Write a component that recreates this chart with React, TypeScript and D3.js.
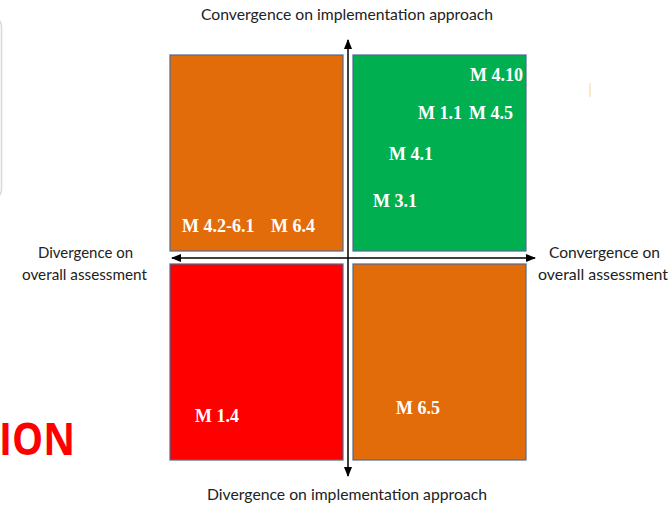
import React from 'react';
import * as d3 from 'd3';

// Quadrant fills: [horizontal sign, vertical sign, colour]
const quadrantSides = [
  { qx: -1, qy: 1, color: '#E36C0A' },
  { qx: 1, qy: 1, color: '#00B050' },
  { qx: -1, qy: -1, color: '#FF0000' },
  { qx: 1, qy: -1, color: '#E36C0A' },
];

// Measures placed on (overall assessment, implementation approach) convergence
const measureNames = ['M 4.10', 'M 1.1', 'M 4.5', 'M 4.1', 'M 3.1', 'M 4.2-6.1', 'M 6.4', 'M 1.4', 'M 6.5'];
const overallScore = [0.685, 0.393, 0.68, 0.23, 0.14, -0.933, -0.433, -0.86, 0.27];
const implementationScore = [0.872, 0.684, 0.684, 0.481, 0.249, 0.126, 0.126, -0.812, -0.773];

const topLabel = 'Convergence on implementation approach';
const bottomLabel = 'Divergence  on implementation approach';
const leftLabel = ['Divergence on', 'overall assessment'];
const rightLabel = ['Convergence on', 'overall assessment'];

const W = 671;
const H = 506;

export default function App() {
  const x = d3.scaleLinear().domain([-1, 1]).range([170, 526]);
  const y = d3.scaleLinear().domain([-1, 1]).range([460, 55]);
  const gapX = 5;
  const gapY = 6.5;
  const cx = x(0);
  const cy = y(0);

  const axisFont = 'Lato, "Open Sans", sans-serif';
  const markFont = '"Liberation Serif", "DejaVu Serif", serif';

  return (
    <svg
      width={W}
      height={H}
      viewBox={`0 0 ${W} ${H}`}
      style={{ position: 'absolute', left: 0, top: 0, background: '#fff' }}
    >
      <defs>
        <marker id="arr" viewBox="0 0 10 10" refX="9" refY="5" markerWidth="7" markerHeight="7" orient="auto-start-reverse">
          <path d="M0,1 L10,5 L0,9 z" fill="#000" />
        </marker>
      </defs>

      {/* cropped slide remnants */}
      <rect x={-20} y={18} width={21.5} height={180} rx={8} fill="#fff" stroke="#d8d8d8" strokeWidth={1.5} />
      <line x1={590} x2={590} y1={83} y2={97} stroke="#f3b45c" strokeWidth={1} opacity={0.6} />
      <text
        x={75}
        y={455}
        textAnchor="end"
        fill="#FF0000"
        fontFamily='"Open Sans", Lato, sans-serif'
        fontWeight={700}
        fontSize={44}
        textLength={76}
        lengthAdjust="spacingAndGlyphs"
      >
        ION
      </text>

      {/* quadrants */}
      {quadrantSides.map((q, i) => {
        const x0 = q.qx < 0 ? x(-1) : cx + gapX;
        const x1 = q.qx < 0 ? cx - gapX : x(1);
        const y0 = q.qy > 0 ? y(1) : cy + gapY;
        const y1 = q.qy > 0 ? cy - gapY : y(-1);
        return (
          <rect
            key={i}
            x={x0}
            y={y0}
            width={x1 - x0}
            height={y1 - y0}
            fill={q.color}
            stroke="#4F6A8F"
            strokeWidth={1.2}
          />
        );
      })}

      {/* axes */}
      <line x1={cx} x2={cx} y1={cy} y2={40} stroke="#000" strokeWidth={1.5} markerEnd="url(#arr)" />
      <line x1={cx} x2={cx} y1={cy} y2={476} stroke="#000" strokeWidth={1.5} markerEnd="url(#arr)" />
      <line x1={cx} x2={172} y1={258} y2={258} stroke="#000" strokeWidth={1.5} markerEnd="url(#arr)" />
      <line x1={cx} x2={535} y1={258} y2={258} stroke="#000" strokeWidth={1.5} markerEnd="url(#arr)" />

      {/* measure labels */}
      {measureNames.map((m, i) => (
        <text
          key={m}
          x={x(overallScore[i])}
          y={y(implementationScore[i])}
          fill="#fff"
          fontFamily={markFont}
          fontWeight={700}
          fontSize={18}
        >
          {m}
        </text>
      ))}

      {/* axis titles */}
      <g fontFamily={axisFont} fontSize={15} fill="#222">
        <text x={201} y={20} textLength={292} lengthAdjust="spacingAndGlyphs">{topLabel}</text>
        <text x={207} y={500} textLength={280} lengthAdjust="spacingAndGlyphs">{bottomLabel}</text>
        <text x={38} y={258} textLength={95} lengthAdjust="spacingAndGlyphs">{leftLabel[0]}</text>
        <text x={22} y={280} textLength={125} lengthAdjust="spacingAndGlyphs">{leftLabel[1]}</text>
        <text x={549} y={258} textLength={111} lengthAdjust="spacingAndGlyphs">{rightLabel[0]}</text>
        <text x={538} y={280} textLength={130} lengthAdjust="spacingAndGlyphs">{rightLabel[1]}</text>
      </g>
    </svg>
  );
}
